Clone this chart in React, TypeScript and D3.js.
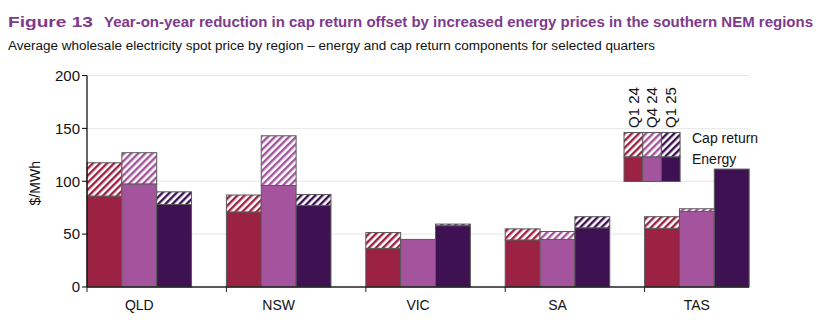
import React from "react";
import * as d3 from "d3";

const regions = ["QLD", "NSW", "VIC", "SA", "TAS"];
const quarters = ["Q1 24", "Q4 24", "Q1 25"];
const energyQ1_24 = [86, 71, 36.5, 44.5, 55.5];
const energyQ4_24 = [97.5, 96, 45, 45, 71.5];
const energyQ1_25 = [78, 77, 58, 56, 111.5];
const capQ1_24 = [31.5, 16, 15, 10.5, 11];
const capQ4_24 = [29.5, 47, 0, 7.5, 2.5];
const capQ1_25 = [12, 10.5, 1.5, 10.5, 0];
const yTicks = [0, 50, 100, 150, 200];
const colors = ["#9B2242", "#A4549C", "#3D1152"];

const energy = [energyQ1_24, energyQ4_24, energyQ1_25];
const cap = [capQ1_24, capQ4_24, capQ1_25];

const W = 834;
const H = 334;
const left = 87;
const bandW = 139.4;
const plotRight = 749;
const y0 = 287;
const yTop = 75.5;
const font = "'Liberation Sans', Arial, sans-serif";

export default function App() {
  const x = d3
    .scaleBand<string>()
    .domain(regions)
    .range([left, left + bandW * regions.length])
    .padding(0);
  const xs = d3
    .scaleBand<string>()
    .domain([...quarters, "gap"])
    .range([0, x.bandwidth()])
    .padding(0);
  const y = d3.scaleLinear().domain([0, 200]).range([y0, yTop]);

  const legendX = 624;
  const legendW = 18.7;

  return (
    <svg
      width={W}
      height={H}
      style={{ position: "absolute", left: 0, top: 0, background: "#fff" }}
      fontFamily={font}
    >
      <defs>
        {quarters.map((q, i) => (
          <pattern
            key={q}
            id={`hatch${i}`}
            width={5}
            height={5}
            patternUnits="userSpaceOnUse"
            patternTransform="rotate(45)"
          >
            <rect width={5} height={5} fill="#fff" />
            <rect width={2.4} height={5} fill={colors[i]} />
          </pattern>
        ))}
      </defs>

      <text
        x={8}
        y={27}
        fontSize={14.5}
        fontWeight="bold"
        fill="#7E3A8C"
        textLength={85}
        lengthAdjust="spacingAndGlyphs"
      >
        Figure 13
      </text>
      <text
        x={104}
        y={27}
        fontSize={14}
        fontWeight="bold"
        fill="#7E3A8C"
        textLength={709}
        lengthAdjust="spacingAndGlyphs"
      >
        Year-on-year reduction in cap return offset by increased energy prices in the southern NEM regions
      </text>
      <text
        x={8}
        y={50}
        fontSize={12.5}
        fill="#111"
        textLength={647}
        lengthAdjust="spacingAndGlyphs"
      >
        Average wholesale electricity spot price by region – energy and cap return components for selected quarters
      </text>

      {yTicks.slice(1).map((t) => (
        <line
          key={t}
          x1={left}
          x2={plotRight}
          y1={y(t)}
          y2={y(t)}
          stroke="#e8e8e8"
          strokeWidth={1}
        />
      ))}

      {regions.map((r, ri) =>
        quarters.map((q, qi) => {
          const bx = (x(r) as number) + (xs(q) as number);
          const bw = xs.bandwidth();
          const e = energy[qi][ri];
          const c = cap[qi][ri];
          return (
            <g key={r + q}>
              <rect
                x={bx}
                y={y(e)}
                width={bw}
                height={y(0) - y(e)}
                fill={colors[qi]}
                stroke="#5a5a5a"
                strokeWidth={1}
              />
              {c > 0 && (
                <rect
                  x={bx}
                  y={y(e + c)}
                  width={bw}
                  height={y(e) - y(e + c)}
                  fill={`url(#hatch${qi})`}
                  stroke="#5a5a5a"
                  strokeWidth={1}
                />
              )}
            </g>
          );
        })
      )}

      {/* Y axis */}
      <line x1={left} x2={left} y1={yTop} y2={y0} stroke="#000" strokeWidth={1.2} />
      {yTicks.map((t) => (
        <g key={t}>
          <line x1={left - 5} x2={left} y1={y(t)} y2={y(t)} stroke="#000" strokeWidth={1} />
          <text x={80} y={y(t)} dy="0.35em" textAnchor="end" fontSize={15} fill="#111">
            {t}
          </text>
        </g>
      ))}
      <text
        transform={`translate(35,${(yTop + y0) / 2 + 2}) rotate(-90)`}
        textAnchor="middle"
        dy="0.35em"
        fontSize={14}
        fill="#111"
      >
        $/MWh
      </text>

      {/* X axis */}
      <line x1={left} x2={plotRight} y1={y0} y2={y0} stroke="#222" strokeWidth={1.5} />
      {regions.map((r) => (
        <g key={r}>
          <line
            x1={x(r) as number}
            x2={x(r) as number}
            y1={y0}
            y2={y0 + 5}
            stroke="#222"
            strokeWidth={1}
          />
          <text
            x={(x(r) as number) + (xs.bandwidth() * 3) / 2}
            y={310}
            textAnchor="middle"
            fontSize={14}
            fill="#111"
          >
            {r}
          </text>
        </g>
      ))}

      {/* Legend */}
      {quarters.map((q, i) => {
        const lx = legendX + i * legendW;
        return (
          <g key={q}>
            <rect
              x={lx}
              y={132.5}
              width={legendW}
              height={24.5}
              fill={`url(#hatch${i})`}
              stroke="#5a5a5a"
              strokeWidth={1}
            />
            <rect
              x={lx}
              y={157}
              width={legendW}
              height={24.5}
              fill={colors[i]}
              stroke="#5a5a5a"
              strokeWidth={1}
            />
            <text
              transform={`translate(${lx + legendW / 2},128) rotate(-90)`}
              dy="0.35em"
              fontSize={15}
              fill="#111"
            >
              {q}
            </text>
          </g>
        );
      })}
      <text x={692} y={143} fontSize={14} fill="#111">
        Cap return
      </text>
      <text x={692} y={164} fontSize={14} fill="#111">
        Energy
      </text>
    </svg>
  );
}
